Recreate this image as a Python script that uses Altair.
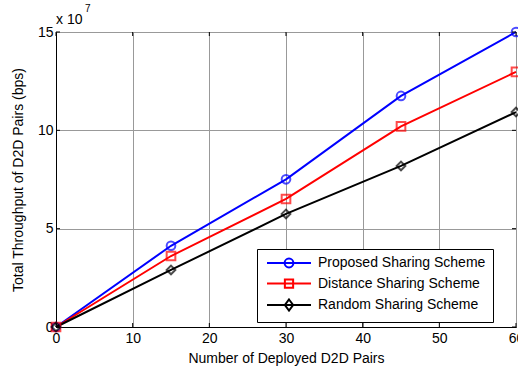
import altair as alt
import pandas as pd

pairs = [0, 15, 30, 45, 60]
proposed = [0, 4.13, 7.51, 11.75, 15.0]
distance = [0, 3.61, 6.51, 10.2, 12.97]
random_s = [0, 2.9, 5.75, 8.19, 10.93]
series = ["Proposed Sharing Scheme", "Distance Sharing Scheme", "Random Sharing Scheme"]
colors = ["#0000ff", "#ff0000", "#000000"]
x_ticks = [0, 10, 20, 30, 40, 50, 60]
y_ticks = [0, 5, 10, 15]

rows = []
for name, vals in zip(series, [proposed, distance, random_s]):
    for x, y in zip(pairs, vals):
        rows.append({"series": name, "pairs": x, "thr": y})
df = pd.DataFrame(rows)

FONT = "Liberation Sans"
FS = 14
W, H = 460, 295

xs = alt.Scale(domain=[0, 60], nice=False)
ys = alt.Scale(domain=[0, 15], nice=False)
cs = alt.Scale(domain=series, range=colors)

xaxis = alt.Axis(values=x_ticks, title="Number of Deployed D2D Pairs",
                 ticks=False, labelPadding=4, titlePadding=6, labelFlush=False,
                 gridColor="#999999", domainColor="#000000")
yaxis = alt.Axis(values=y_ticks, title="Total Throughput of D2D Pairs (bps)",
                 ticks=False, labelPadding=3, titlePadding=12, labelFlush=False,
                 gridColor="#999999", domainColor="#000000")

base = alt.Chart(df)
lines = base.mark_line(strokeWidth=2).encode(
    x=alt.X("pairs:Q", scale=xs, axis=xaxis),
    y=alt.Y("thr:Q", scale=ys, axis=yaxis),
    color=alt.Color("series:N", scale=cs, legend=None),
    detail="series:N",
)
points = base.mark_point(filled=False, strokeWidth=2, size=75).encode(
    x=alt.X("pairs:Q", scale=xs, axis=xaxis),
    y=alt.Y("thr:Q", scale=ys, axis=yaxis),
    color=alt.Color("series:N", scale=cs, legend=None),
    shape=alt.Shape("series:N", scale=alt.Scale(domain=series, range=["circle", "square", "diamond"]), legend=None),
)

paths = [
    "M-4,0 L4,0 M0.8,0 A0.8,0.8 0 1,1 -0.8,0 A0.8,0.8 0 1,1 0.8,0 Z",
    "M-4,0 L4,0 M-0.75,-0.75 L0.75,-0.75 L0.75,0.75 L-0.75,0.75 Z",
    "M-4,0 L4,0 M0,-1 L0.75,0 L0,1 L-0.75,0 Z",
]
leg = alt.Legend(title=None, orient="none", legendX=201, legendY=217,
                 symbolSize=121, symbolStrokeWidth=2, symbolOpacity=1,
                 symbolFillColor="transparent", symbolOffset=18,
                 labelFont=FONT, labelFontSize=FS, labelColor="#000000", labelLimit=400,
                 strokeColor="#000000", fillColor="#ffffff", padding=7,
                 rowPadding=2.5, labelOffset=22, cornerRadius=0)
legend_layer = base.mark_point(filled=False, opacity=0).encode(
    x=alt.X("pairs:Q", scale=xs, axis=xaxis),
    y=alt.Y("thr:Q", scale=ys, axis=yaxis),
    color=alt.Color("series:N", scale=alt.Scale(domain=series, range=colors), legend=leg),
    shape=alt.Shape("series:N", scale=alt.Scale(domain=series, range=paths), legend=leg),
)

tdf = pd.DataFrame({"pairs": x_ticks})
ydf = pd.DataFrame({"thr": y_ticks})
xt_b = alt.Chart(tdf).mark_rule(color="#000000").encode(
    x=alt.X("pairs:Q", scale=xs, axis=xaxis), y=alt.value(H), y2=alt.value(H - 4))
xt_t = alt.Chart(tdf).mark_rule(color="#000000").encode(
    x=alt.X("pairs:Q", scale=xs, axis=xaxis), y=alt.value(0), y2=alt.value(4))
yt_l = alt.Chart(ydf).mark_rule(color="#000000").encode(
    y=alt.Y("thr:Q", scale=ys, axis=yaxis), x=alt.value(0), x2=alt.value(4))
yt_r = alt.Chart(ydf).mark_rule(color="#000000").encode(
    y=alt.Y("thr:Q", scale=ys, axis=yaxis), x=alt.value(W), x2=alt.value(W - 4))

mult = alt.Chart(pd.DataFrame({"t": ["x 10"]})).mark_text(
    font=FONT, fontSize=FS, align="left", baseline="alphabetic", color="#000000"
).encode(x=alt.value(0), y=alt.value(-8), text="t:N")
expo = alt.Chart(pd.DataFrame({"t": ["7"]})).mark_text(
    font=FONT, fontSize=10, align="left", baseline="alphabetic", color="#000000"
).encode(x=alt.value(29), y=alt.value(-20), text="t:N")

chart = alt.layer(lines, points, legend_layer, xt_b, xt_t, yt_l, yt_r, mult, expo).resolve_scale(
    color="independent", shape="independent"
).properties(
    width=W, height=H,
    autosize=alt.AutoSizeParams(type="none"),
    padding={"left": 56, "top": 32, "right": 2, "bottom": 42},
).configure_view(stroke="#000000", strokeWidth=1).configure_axis(
    labelFont=FONT, titleFont=FONT, labelFontSize=FS, titleFontSize=FS,
    labelColor="#000000", titleColor="#000000", titleFontWeight="normal",
    gridWidth=1, domainWidth=1,
).configure_axisY(labelAlign="right")

chart.save("out.html", embed_options={"renderer": "svg", "actions": False})
